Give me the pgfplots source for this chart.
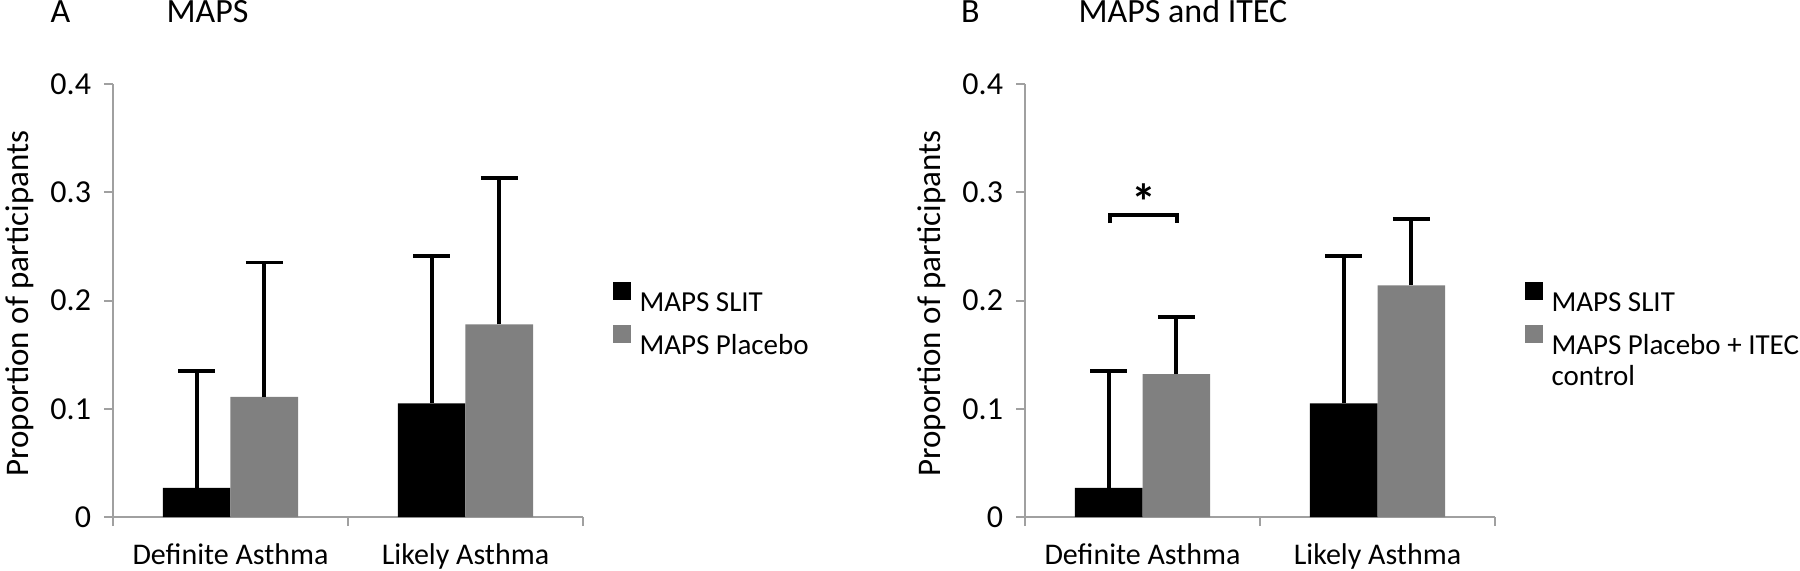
\documentclass[border=0pt]{standalone}
\usepackage{fontspec}
\setmainfont{Carlito}
\usepackage{pgfplots}
\pgfplotsset{compat=1.18}
\definecolor{axgray}{RGB}{160,160,160}
\definecolor{bargray}{RGB}{128,128,128}
\newcommand{\lent}[1]{\begin{tabular}[t]{@{}l@{}}#1\end{tabular}}
\pgfplotsset{
  panel/.style={
    scale only axis,
    width=188pt, height=173.2pt,
    anchor=south west,
    xmin=0, xmax=2, ymin=0, ymax=0.4,
    axis x line*=bottom, axis y line*=left,
    axis line style={draw=axgray, line width=0.8pt},
    tick style={draw=axgray, line width=0.8pt},
    tick align=outside,
    major tick length=3.6pt, minor tick length=3.6pt,
    ytick={0,0.1,0.2,0.3,0.4},
    yticklabels={0,0.1,0.2,0.3,0.4},
    xtick={0.5,1.5},
    xticklabels={Definite Asthma, Likely Asthma},
    minor xtick={0,1,2},
    major x tick style={draw=none},
    /pgf/number format/assume math mode=true,
    yticklabel style={font=\fontsize{12.8}{14}\selectfont, anchor=east, inner sep=0pt, xshift=-5pt},
    xticklabel style={font=\fontsize{12}{14}\selectfont, anchor=north, inner sep=0pt, yshift=-7pt},
    ylabel={Proportion of participants},
    ylabel style={font=\fontsize{13.2}{15}\selectfont, at={(axis description cs:-0.199,0.493)}, anchor=center},
    legend style={at={(axis description cs:1.0617,0.5474)}, anchor=north west, draw=none, fill=none,
      font=\fontsize{11.6}{15}\selectfont, row sep=1pt, inner sep=0pt,
      cells={anchor=base west, inner sep=0pt}},
    legend cell align=left,
    clip=false,
  },
  errstyle/.style={/pgfplots/error bars/.cd, y dir=plus, y explicit,
    error bar style={line width=1.5pt, black},
    error mark options={rotate=90, mark size=7.4pt, line width=1.5pt, black},
    /pgfplots/.cd},
  blackimg/.style={legend image code/.code={\fill[black] (0pt,0.07pt) rectangle (7.2pt,7.27pt);}},
  grayimg/.style={legend image code/.code={\fill[bargray] (0pt,0.07pt) rectangle (7.2pt,7.27pt);}},
}
\begin{document}
\begin{tikzpicture}
\useasboundingbox (0,0) rectangle (720pt,228pt);
% Panel A
\begin{axis}[panel, at={(45.2pt,21.2pt)}]
\addplot[ybar, bar width=0.288, bar shift=0pt, fill=black, draw=none, blackimg, errstyle]
  coordinates {(0.356,0.027) +- (0,0.108) (1.356,0.105) +- (0,0.136)};
\addlegendentry{\hspace{1.6pt}\lent{MAPS SLIT}}
\addplot[ybar, bar width=0.288, bar shift=0pt, fill=bargray, draw=none, grayimg, errstyle]
  coordinates {(0.644,0.111) +- (0,0.124) (1.644,0.178) +- (0,0.135)};
\addlegendentry{\hspace{1.6pt}\lent{MAPS Placebo}}
\end{axis}
% Panel B
\begin{axis}[panel, at={(410pt,21.2pt)}]
\addplot[ybar, bar width=0.288, bar shift=0pt, fill=black, draw=none, blackimg, errstyle]
  coordinates {(0.356,0.027) +- (0,0.108) (1.356,0.105) +- (0,0.136)};
\addlegendentry{\hspace{1.6pt}\lent{MAPS SLIT}}
\addplot[ybar, bar width=0.288, bar shift=0pt, fill=bargray, draw=none, grayimg, errstyle]
  coordinates {(0.644,0.132) +- (0,0.053) (1.644,0.214) +- (0,0.061)};
\addlegendentry{\hspace{1.6pt}\lent{MAPS Placebo + ITEC\\[-2.5pt]control}}
\draw[line width=1.4pt, black] (axis cs:0.362,0.2715) -- (axis cs:0.362,0.2789) -- (axis cs:0.647,0.2789) -- (axis cs:0.647,0.2715);
\node[font=\fontsize{20}{22}\selectfont\bfseries, inner sep=0pt] at (axis cs:0.505,0.291) {*};
\end{axis}
% titles
\node[anchor=base west, inner sep=0pt, font=\fontsize{13.6}{16}\selectfont] at (20pt,218.8pt) {A};
\node[anchor=base west, inner sep=0pt, font=\fontsize{13.6}{16}\selectfont] at (66.4pt,218.8pt) {MAPS};
\node[anchor=base west, inner sep=0pt, font=\fontsize{13.6}{16}\selectfont] at (384.2pt,218.8pt) {B};
\node[anchor=base west, inner sep=0pt, font=\fontsize{13.6}{16}\selectfont] at (431.2pt,218.8pt) {MAPS and ITEC};
\end{tikzpicture}
\end{document}
